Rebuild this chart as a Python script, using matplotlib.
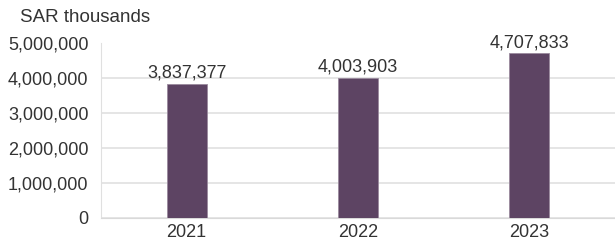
import matplotlib.pyplot as plt
from matplotlib.ticker import FuncFormatter

years = ["2021", "2022", "2023"]
values = [3837377, 4003903, 4707833]
yticks = [0, 1000000, 2000000, 3000000, 4000000, 5000000]

plt.rcParams['font.family'] = ['Liberation Sans', 'DejaVu Sans']

fig = plt.figure(figsize=(6.15, 2.4), dpi=100)
ax = fig.add_axes([101 / 615, 22 / 240, 514 / 615, 175 / 240])

x = range(len(years))
ax.bar(x, values, width=0.235, color='#5d4463', edgecolor='#9a8a9e', linewidth=0.6, zorder=3)

for i, v in enumerate(values):
    ax.text(i, v + 60000, f"{v:,}", ha='center', va='bottom', fontsize=13, color='#333333')

ax.set_xlim(-0.5, 2.5)
ax.set_ylim(0, 5000000)
ax.set_yticks(yticks)
ax.yaxis.set_major_formatter(FuncFormatter(lambda v, p: f"{int(v):,}"))
ax.set_xticks(list(x))
ax.set_xticklabels(years)
ax.tick_params(axis='both', length=0, labelsize=13, labelcolor='#333333')
ax.tick_params(axis='y', pad=9)
ax.tick_params(axis='x', pad=4)

ax.grid(axis='y', color='#e0e0e0', linewidth=1.2, zorder=0)
ax.yaxis.get_gridlines()[-1].set_visible(False)
for s in ['top', 'right']:
    ax.spines[s].set_visible(False)
ax.spines['left'].set_color('#e0e0e0')
ax.spines['bottom'].set_color('#d9d9d9')

fig.text(20 / 615, 1 - 18 / 240, "SAR thousands", fontsize=13.5, color='#333333', va='center', ha='left')

fig.savefig("out.png", dpi=100)
